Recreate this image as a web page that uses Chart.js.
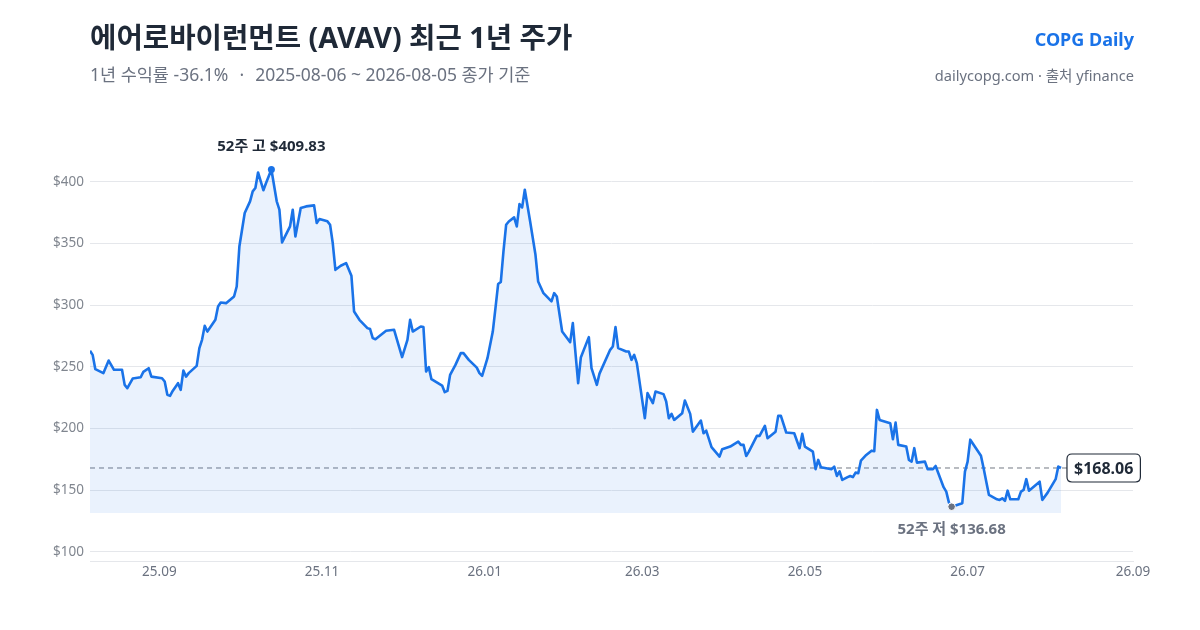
<!DOCTYPE html>
<html><head><meta charset="utf-8">
<script src="https://cdn.jsdelivr.net/npm/chart.js@4.4.1/dist/chart.umd.min.js"></script>
<style>
html,body{margin:0;padding:0;background:#fff;width:1200px;height:630px;overflow:hidden;font-family:"Noto Sans","Noto Sans CJK KR",sans-serif;}
#wrap{position:relative;width:1200px;height:630px;}
canvas{position:absolute;left:0;top:0;}
.t{position:absolute;white-space:nowrap;line-height:1;}
#title{left:90px;top:23px;font-size:28.7px;font-weight:700;color:#1f2937;}
#sub{left:90px;top:66px;font-size:17.5px;color:#6b7280;}
#sub .dot{display:inline-block;padding:0 11px;}
#brand{right:66px;top:30px;font-size:18px;font-weight:700;color:#1a73e8;}
#src{right:66px;top:68px;font-size:14.6px;color:#6b7280;}
</style></head>
<body><div id="wrap">
<canvas id="c" width="1200" height="630"></canvas>
<div class="t" id="title">에어로바이런먼트 (AVAV) 최근 1년 주가</div>
<div class="t" id="sub">1년 수익률 -36.1%<span class="dot">·</span>2025-08-06 ~ 2026-08-05 종가 기준</div>
<div class="t" id="brand">COPG Daily</div>
<div class="t" id="src">dailycopg.com · 출처 yfinance</div>
</div>
<script>
const dates = ["2025-08-06","2025-08-07","2025-08-08","2025-08-11","2025-08-13","2025-08-15","2025-08-18","2025-08-19","2025-08-20","2025-08-22","2025-08-25","2025-08-26","2025-08-28","2025-08-29","2025-09-02","2025-09-03","2025-09-04","2025-09-05","2025-09-06","2025-09-08","2025-09-09","2025-09-10","2025-09-11","2025-09-12","2025-09-15","2025-09-16","2025-09-17","2025-09-18","2025-09-19","2025-09-22","2025-09-23","2025-09-24","2025-09-26","2025-09-29","2025-09-30","2025-10-01","2025-10-03","2025-10-05","2025-10-06","2025-10-07","2025-10-08","2025-10-10","2025-10-11","2025-10-13","2025-10-15","2025-10-16","2025-10-17","2025-10-20","2025-10-21","2025-10-22","2025-10-24","2025-10-26","2025-10-29","2025-10-30","2025-10-31","2025-11-03","2025-11-04","2025-11-05","2025-11-06","2025-11-08","2025-11-10","2025-11-12","2025-11-13","2025-11-15","2025-11-18","2025-11-19","2025-11-20","2025-11-21","2025-11-25","2025-11-28","2025-12-01","2025-12-03","2025-12-04","2025-12-05","2025-12-08","2025-12-09","2025-12-10","2025-12-11","2025-12-12","2025-12-16","2025-12-17","2025-12-18","2025-12-19","2025-12-21","2025-12-23","2025-12-24","2025-12-26","2025-12-29","2025-12-30","2025-12-31","2026-01-02","2026-01-04","2026-01-05","2026-01-06","2026-01-07","2026-01-08","2026-01-09","2026-01-10","2026-01-12","2026-01-13","2026-01-14","2026-01-15","2026-01-16","2026-01-18","2026-01-20","2026-01-21","2026-01-23","2026-01-26","2026-01-27","2026-01-28","2026-01-30","2026-02-02","2026-02-03","2026-02-05","2026-02-06","2026-02-09","2026-02-10","2026-02-12","2026-02-13","2026-02-17","2026-02-18","2026-02-19","2026-02-20","2026-02-23","2026-02-24","2026-02-25","2026-02-26","2026-02-27","2026-03-02","2026-03-03","2026-03-05","2026-03-06","2026-03-09","2026-03-10","2026-03-11","2026-03-12","2026-03-13","2026-03-16","2026-03-17","2026-03-19","2026-03-20","2026-03-23","2026-03-24","2026-03-25","2026-03-27","2026-03-30","2026-03-31","2026-04-03","2026-04-06","2026-04-07","2026-04-08","2026-04-09","2026-04-10","2026-04-13","2026-04-14","2026-04-16","2026-04-17","2026-04-20","2026-04-21","2026-04-22","2026-04-24","2026-04-27","2026-04-29","2026-04-30","2026-05-01","2026-05-04","2026-05-05","2026-05-06","2026-05-07","2026-05-11","2026-05-12","2026-05-13","2026-05-14","2026-05-15","2026-05-17","2026-05-18","2026-05-19","2026-05-20","2026-05-21","2026-05-22","2026-05-24","2026-05-26","2026-05-27","2026-05-28","2026-05-29","2026-06-02","2026-06-03","2026-06-04","2026-06-05","2026-06-08","2026-06-09","2026-06-10","2026-06-11","2026-06-12","2026-06-15","2026-06-16","2026-06-18","2026-06-19","2026-06-22","2026-06-23","2026-06-24","2026-06-25","2026-06-27","2026-06-29","2026-06-30","2026-07-01","2026-07-02","2026-07-06","2026-07-07","2026-07-08","2026-07-09","2026-07-12","2026-07-13","2026-07-14","2026-07-15","2026-07-16","2026-07-17","2026-07-20","2026-07-21","2026-07-22","2026-07-23","2026-07-24","2026-07-28","2026-07-29","2026-07-31","2026-08-03","2026-08-04","2026-08-05"];
const closes = [263.0,259.7,248.1,244.9,255.1,247.6,247.6,235.4,232.7,240.5,241.6,245.9,248.9,242.1,240.8,238.1,227.3,226.5,230.5,236.8,231.4,247.0,242.1,244.9,250.8,265.2,271.9,283.2,278.6,288.1,298.9,302.1,301.6,307.0,315.1,347.5,374.6,384.1,392.2,394.9,407.5,393.1,399.0,409.83,384.1,377.3,350.8,363.8,377.3,355.7,378.7,380.0,380.8,366.5,369.7,367.9,365.1,350.3,328.6,331.9,334.1,323.8,294.8,288.1,281.4,280.6,273.3,272.4,279.2,280.0,257.9,271.9,288.1,278.6,282.7,282.2,246.2,249.8,240.0,234.8,229.5,230.5,243.5,251.6,261.1,261.1,255.7,249.4,244.9,242.7,257.0,278.6,297.6,317.1,318.7,343.5,365.1,367.8,371.1,363.8,381.9,379.2,393.5,367.8,340.8,319.2,309.7,303.0,309.7,307.0,278.6,270.0,285.4,236.8,257.5,274.1,248.9,235.4,244.5,263.8,266.5,282.2,265.2,262.4,262.4,255.7,259.7,253.0,208.4,228.7,220.6,230.0,227.9,221.9,208.4,211.9,207.0,212.5,222.7,211.9,197.5,206.5,196.2,198.4,184.9,177.3,183.3,185.4,189.4,186.8,186.8,177.8,181.3,194.1,194.1,202.2,192.2,197.5,210.3,210.3,196.8,196.2,184.1,195.7,185.4,181.3,167.1,174.6,168.7,167.1,169.2,161.6,165.4,158.4,160.6,161.6,160.6,164.3,163.8,174.0,178.6,182.1,181.6,215.1,207.0,204.4,191.4,204.8,186.8,185.4,174.6,173.2,184.1,172.4,173.2,167.1,167.1,169.7,152.5,148.9,140.0,136.68,138.1,139.5,165.1,173.2,191.0,178.0,167.9,157.0,146.2,142.7,142.2,143.5,141.4,149.7,142.7,142.7,148.9,150.3,159.0,149.7,157.0,142.2,148.1,159.0,169.2,168.06];
const axisStart = "2025-08-06";
const axisEnd = "2026-09-01";
const xTickDates = ["2025-09-01","2025-11-01","2026-01-01","2026-03-01","2026-05-01","2026-07-01","2026-09-01"];
const yTicks = [100,150,200,250,300,350,400];
const yMin = 92.7, yMax = 450, fillBase = 131.6;

const BLUE = '#1a73e8';
const dayOf = d => Math.round((Date.parse(d + 'T00:00:00Z') - Date.parse(axisStart + 'T00:00:00Z')) / 86400000);
const labelOf = v => { const d = new Date(Date.parse(axisStart + 'T00:00:00Z') + v * 86400000); return String(d.getUTCFullYear()).slice(2) + '.' + String(d.getUTCMonth() + 1).padStart(2, '0'); };
const pts = dates.map((d, i) => ({ x: dayOf(d), y: closes[i] }));
const FONT = '"Noto Sans","Noto Sans CJK KR",sans-serif';

let hi = 0, lo = 0;
closes.forEach((v, i) => { if (v > closes[hi]) hi = i; if (v < closes[lo]) lo = i; });
const last = closes.length - 1;

const annot = {
  id: 'annot',
  beforeDatasetsDraw(chart) {
    const { ctx, chartArea, scales: { y } } = chart;
    const py = y.getPixelForValue(closes[last]);
    ctx.save();
    ctx.strokeStyle = 'rgba(100,106,118,0.9)';
    ctx.lineWidth = 1;
    ctx.setLineDash([5, 4]);
    ctx.beginPath(); ctx.moveTo(chartArea.left, py); ctx.lineTo(chartArea.right, py); ctx.stroke();
    ctx.restore();
  },
  afterDatasetsDraw(chart) {
    const { ctx, scales: { x, y } } = chart;
    ctx.save();
    const hx = x.getPixelForValue(pts[hi].x), hy = y.getPixelForValue(pts[hi].y);
    ctx.fillStyle = BLUE; ctx.beginPath(); ctx.arc(hx, hy, 3.5, 0, Math.PI * 2); ctx.fill();
    ctx.font = '700 15px ' + FONT; ctx.textAlign = 'center'; ctx.textBaseline = 'middle';
    ctx.fillStyle = '#1f2937';
    ctx.fillText('52주 고 $' + closes[hi].toFixed(2), hx, hy - 23);
    const lx = x.getPixelForValue(pts[lo].x), ly = y.getPixelForValue(pts[lo].y);
    ctx.fillStyle = '#6b7280'; ctx.strokeStyle = '#fff'; ctx.lineWidth = 1;
    ctx.beginPath(); ctx.arc(lx, ly, 3.8, 0, Math.PI * 2); ctx.fill(); ctx.stroke();
    ctx.fillStyle = '#6b7280';
    ctx.fillText('52주 저 $' + closes[lo].toFixed(2), lx, ly + 23);
    const ex = x.getPixelForValue(pts[last].x), ey = y.getPixelForValue(pts[last].y);
    const txt = '$' + closes[last].toFixed(2);
    ctx.font = '700 16px ' + FONT;
    const w = ctx.measureText(txt).width + 14, h = 28;
    const bx = ex + 6, by = ey - h / 2, r = 5;
    ctx.beginPath();
    ctx.moveTo(bx + r, by); ctx.lineTo(bx + w - r, by); ctx.quadraticCurveTo(bx + w, by, bx + w, by + r);
    ctx.lineTo(bx + w, by + h - r); ctx.quadraticCurveTo(bx + w, by + h, bx + w - r, by + h);
    ctx.lineTo(bx + r, by + h); ctx.quadraticCurveTo(bx, by + h, bx, by + h - r);
    ctx.lineTo(bx, by + r); ctx.quadraticCurveTo(bx, by, bx + r, by); ctx.closePath();
    ctx.fillStyle = '#fff'; ctx.fill();
    ctx.strokeStyle = '#1f2937'; ctx.lineWidth = 1.2; ctx.stroke();
    ctx.fillStyle = '#1f2937'; ctx.textAlign = 'center';
    ctx.fillText(txt, bx + w / 2, ey + 1);
    ctx.restore();
  }
};

new Chart(document.getElementById('c'), {
  type: 'line',
  data: { datasets: [{
    data: pts,
    borderColor: BLUE,
    borderWidth: 2.6,
    pointRadius: 0,
    tension: 0,
    borderJoinStyle: 'round',
    fill: { value: fillBase },
    backgroundColor: 'rgba(26,115,232,0.09)'
  }] },
  options: {
    responsive: false,
    animation: false,
    devicePixelRatio: 1,
    layout: { padding: { top: 120, right: 67, bottom: 39, left: 0 } },
    plugins: { legend: { display: false }, tooltip: { enabled: false } },
    scales: {
      x: {
        type: 'linear',
        min: dayOf(axisStart), max: dayOf(axisEnd),
        afterBuildTicks: s => { s.ticks = xTickDates.map(d => ({ value: dayOf(d) })); },
        afterFit: s => { s.height = 30; },
        grid: { display: false, drawTicks: false },
        border: { display: true, color: '#e5e7eb', width: 1 },
        ticks: { callback: v => labelOf(v), color: '#6b7280', font: { family: FONT, size: 13.5 }, padding: 3, maxRotation: 0, autoSkip: false }
      },
      y: {
        min: yMin, max: yMax,
        afterBuildTicks: s => { s.ticks = yTicks.map(v => ({ value: v })); },
        afterFit: s => { s.width = 90; },
        grid: { color: '#e5e7eb', drawTicks: false, lineWidth: 1 },
        border: { display: false },
        ticks: { callback: v => '$' + v, color: '#80868f', font: { family: FONT, size: 13.5 }, padding: 6 }
      }
    }
  },
  plugins: [annot]
});
</script>
</body></html>
